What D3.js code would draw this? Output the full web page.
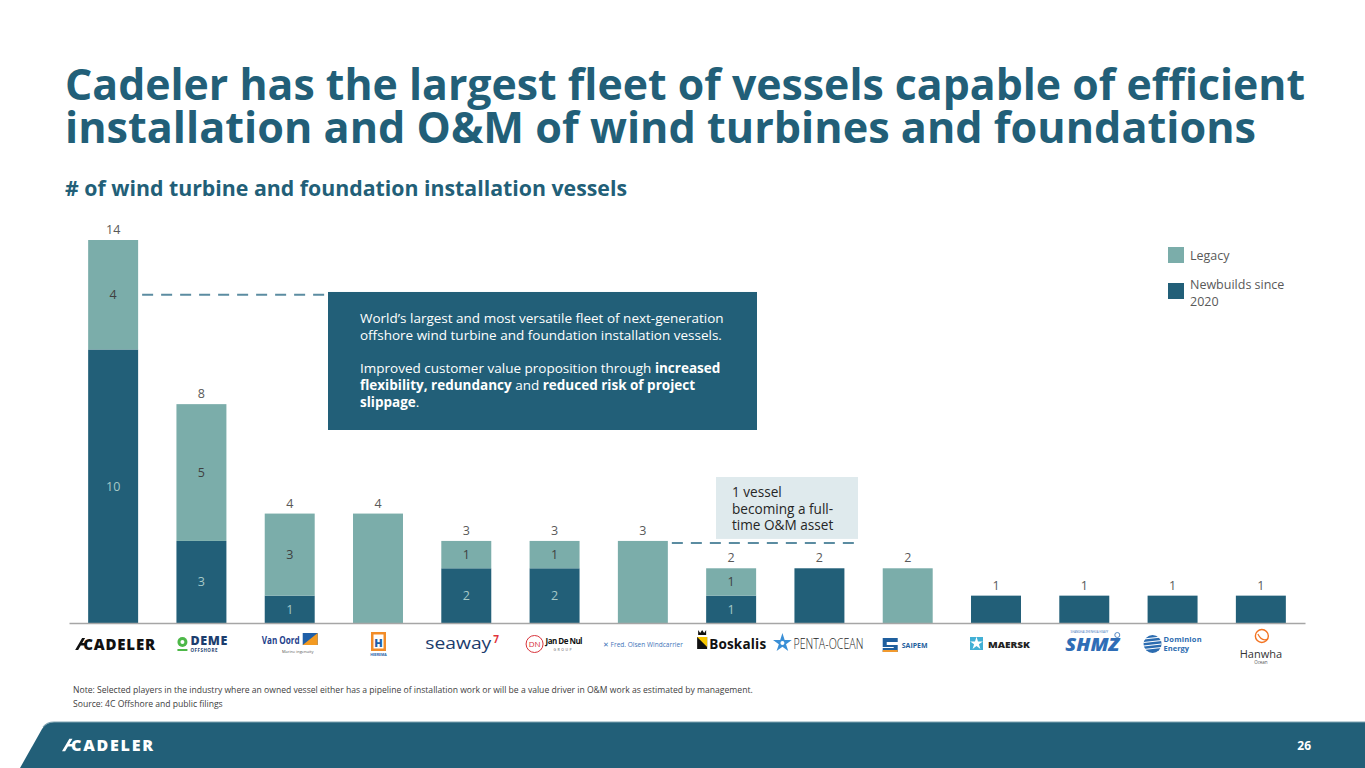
<!DOCTYPE html>
<html>
<head>
<meta charset="utf-8">
<script src="https://cdn.jsdelivr.net/npm/d3@7"></script>
<style>
  body { margin: 0; background: #fff; }
  svg { display: block; font-family: "Open Sans", "Noto Sans", sans-serif; }
</style>
</head>
<body>
<svg id="chart" width="1365" height="768"></svg>
<script>
// data
const companies = ["Cadeler", "DEME Offshore", "Van Oord", "Heerema", "Seaway7", "Jan De Nul",
  "Fred. Olsen Windcarrier", "Boskalis", "Penta-Ocean", "Saipem", "Maersk", "SHMZ",
  "Dominion Energy", "Hanwha Ocean"];
const newbuilds = [10, 3, 1, 0, 2, 2, 0, 1, 2, 0, 1, 1, 1, 1];
const legacy = [4, 5, 3, 4, 1, 1, 3, 1, 0, 2, 0, 0, 0, 0];
const seriesKeys = ["newbuild", "legacy"];
const seriesLabels = ["Newbuilds since 2020", "Legacy"];

const dark = "#225f78";
const light = "#7badaa";

const svg = d3.select("#chart");
const width = 1365;

const rows = companies.map((c, i) => ({ name: c, newbuild: newbuilds[i], legacy: legacy[i] }));
rows.forEach((d) => (d.total = d.newbuild + d.legacy));

const x = d3.scaleBand()
  .domain(companies)
  .range([69, 1305])
  .paddingInner(0.434)
  .paddingOuter(0.217);

const y = d3.scaleLinear().domain([0, 14]).range([623, 240]);

const color = d3.scaleOrdinal().domain(seriesKeys).range([dark, light]);

// fit text to a width by tweaking font size
const fit = (sel, target) => {
  const w = sel.node().getComputedTextLength();
  const fs = parseFloat(sel.attr("font-size"));
  sel.attr("font-size", (fs * target) / w);
  return (fs * target) / w;
};

// ---- title (one text, two lines, squeezed a bit to match the slide font)
const title = svg.append("text")
  .attr("font-size", 43).attr("font-weight", 700).attr("fill", dark);
title.append("tspan")
  .attr("x", 65).attr("y", 100)
  .attr("textLength", 1240).attr("lengthAdjust", "spacingAndGlyphs")
  .text("Cadeler has the largest fleet of vessels capable of efficient");
title.append("tspan")
  .attr("x", 65).attr("y", 143)
  .attr("textLength", 1191).attr("lengthAdjust", "spacingAndGlyphs")
  .text("installation and O&M of wind turbines and foundations");

const sub = svg.append("text")
  .attr("x", 65).attr("y", 196)
  .attr("font-size", 20.5).attr("font-weight", 700).attr("fill", dark)
  .attr("textLength", 562).attr("lengthAdjust", "spacingAndGlyphs")
  .text("# of wind turbine and foundation installation vessels");

// ---- bars
const stacked = d3.stack().keys(seriesKeys)(rows);

const layer = svg.append("g")
  .selectAll("g.layer")
  .data(stacked)
  .join("g")
  .attr("class", "layer")
  .attr("fill", (d) => color(d.key));

layer.selectAll("rect")
  .data((d) => d)
  .join("rect")
  .attr("x", (d) => x(d.data.name))
  .attr("width", x.bandwidth())
  .attr("y", (d) => y(d[1]))
  .attr("height", (d) => y(d[0]) - y(d[1]));

// labels inside segments, only where a bar has both parts
layer.each(function (s) {
  d3.select(this).selectAll("text")
    .data(s.filter((d) => d.data.newbuild > 0 && d.data.legacy > 0))
    .join("text")
    .attr("x", (d) => x(d.data.name) + x.bandwidth() / 2)
    .attr("y", (d) => (y(d[0]) + y(d[1])) / 2 + 4.5)
    .attr("text-anchor", "middle")
    .attr("font-size", 12.5)
    .attr("fill", s.key === "newbuild" ? "#a6c9c7" : "#404040")
    .text((d) => d[1] - d[0]);
});

// totals
svg.append("g")
  .selectAll("text")
  .data(rows)
  .join("text")
  .attr("x", (d) => x(d.name) + x.bandwidth() / 2)
  .attr("y", (d) => y(d.total) - 6)
  .attr("text-anchor", "middle")
  .attr("font-size", 12.5)
  .attr("fill", "#595959")
  .text((d) => d.total);

// baseline
svg.append("g")
  .attr("transform", `translate(0,${y(0)})`)
  .call(d3.axisBottom(x).tickSize(0).tickFormat(""))
  .call((g) => g.select(".domain").attr("stroke", "#a6a6a6").attr("stroke-width", 1.5));

// ---- annotations
svg.append("line")
  .attr("x1", x("Cadeler") + x.bandwidth() + 4).attr("x2", 328)
  .attr("y1", y(12)).attr("y2", y(12))
  .attr("stroke", "#5b8ca1").attr("stroke-width", 2).attr("stroke-dasharray", "11,8");

svg.append("rect")
  .attr("x", 328).attr("y", y(12.1))
  .attr("width", 429).attr("height", 430 - y(12.1))
  .attr("fill", dark);

const boxLines = [
  [["World’s largest and most versatile fleet of next-generation", 400]],
  [["offshore wind turbine and foundation installation vessels.", 400]],
  [],
  [["Improved customer value proposition through ", 400], ["increased", 700]],
  [["flexibility, redundancy", 700], [" and ", 400], ["reduced risk of project", 700]],
  [["slippage", 700], [".", 400]],
];
const boxText = svg.append("text")
  .attr("font-size", 13.5).attr("fill", "#fff");
boxLines.forEach((line, i) => {
  line.forEach((part, j) => {
    const ts = boxText.append("tspan")
      .attr("font-weight", part[1])
      .text(part[0]);
    if (j === 0) ts.attr("x", 360).attr("y", 323 + i * 16.8);
  });
});

svg.append("line")
  .attr("x1", x("Fred. Olsen Windcarrier") + x.bandwidth() + 4).attr("x2", 858)
  .attr("y1", y(3) + 2).attr("y2", y(3) + 2)
  .attr("stroke", "#5b8ca1").attr("stroke-width", 2).attr("stroke-dasharray", "11,8");

svg.append("rect")
  .attr("x", 716).attr("y", 477)
  .attr("width", 142).attr("height", y(3) - 477 - 2)
  .attr("fill", "#dfeaed");

svg.append("text")
  .attr("font-size", 13.6).attr("fill", "#262626")
  .selectAll("tspan")
  .data(["1 vessel", "becoming a full-", "time O&M asset"])
  .join("tspan")
  .attr("x", 732)
  .attr("y", (d, i) => 497 + i * 16.5)
  .text((d) => d);

// ---- legend
const legend = svg.append("g").attr("transform", "translate(1168,247)");
const legendItems = [
  { key: "legacy", lines: ["Legacy"] },
  { key: "newbuild", lines: ["Newbuilds since", "2020"] },
];
legendItems.forEach((it, i) => {
  const g = legend.append("g").attr("transform", `translate(0,${i * 36})`);
  g.append("rect").attr("width", 16).attr("height", 16).attr("fill", color(it.key));
  g.append("text")
    .attr("font-size", 12.5).attr("fill", "#595959")
    .selectAll("tspan")
    .data(it.lines)
    .join("tspan")
    .attr("x", 22)
    .attr("y", (d, j) => (it.lines.length === 1 ? 13 : 6 + j * 17))
    .text((d) => d);
});

// ---- company logos (approximated with text + simple shapes)
const cadelerMark = (g, fill, s) => {
  g.append("path")
    .attr("d", `M0 ${6 * s} L${7 * s} ${-6 * s} L${10 * s} ${-6 * s} L${3 * s} ${6 * s} Z M${6 * s} ${-1 * s} L${12 * s} ${-1 * s} L${11 * s} ${1.5 * s} L${5 * s} ${1.5 * s} Z`)
    .attr("fill", fill);
};

const logos = {
  "Cadeler": (g) => {
    cadelerMark(g.append("g").attr("transform", "translate(-38,0)"), "#111", 1);
    g.append("text").attr("x", -30).attr("y", 6)
      .attr("font-size", 15).attr("font-weight", 800).attr("fill", "#111")
      .attr("textLength", 72).text("CADELER");
  },
  "DEME Offshore": (g) => {
    g.append("circle").attr("cx", -19).attr("cy", -2).attr("r", 5).attr("fill", "#4db848");
    g.append("circle").attr("cx", -19).attr("cy", -2).attr("r", 2).attr("fill", "#fff");
    g.append("rect").attr("x", -24).attr("y", 5).attr("width", 10).attr("height", 2).attr("fill", "#4db848");
    g.append("text").attr("x", -11).attr("y", 1).attr("font-size", 12.5).attr("font-weight", 800)
      .attr("fill", "#1d3e6e").attr("textLength", 37).text("DEME");
    g.append("text").attr("x", -11).attr("y", 8).attr("font-size", 4.5).attr("font-weight", 700)
      .attr("fill", "#1d3e6e").attr("letter-spacing", 0.5).text("OFFSHORE");
  },
  "Van Oord": (g) => {
    g.append("text").attr("x", -28).attr("y", 0).attr("font-size", 10.5).attr("font-weight", 700)
      .attr("fill", "#1f3f8c").attr("textLength", 38).attr("lengthAdjust", "spacingAndGlyphs").text("Van Oord");
    g.append("rect").attr("x", 13).attr("y", -11).attr("width", 15).attr("height", 12).attr("fill", "#1f5fa8");
    g.append("path").attr("d", "M13 1 L28 -11 L28 1 Z").attr("fill", "#f39a21");
    g.append("text").attr("x", 8).attr("y", 9).attr("font-size", 4).attr("fill", "#555")
      .attr("text-anchor", "middle").text("Marine ingenuity");
  },
  "Heerema": (g) => {
    g.append("rect").attr("x", -7).attr("y", -12).attr("width", 15).attr("height", 19).attr("fill", "#f28c28");
    g.append("rect").attr("x", -4.5).attr("y", -9.5).attr("width", 10).attr("height", 14).attr("fill", "#fff");
    g.append("text").attr("x", 0.5).attr("y", 2.5).attr("text-anchor", "middle").attr("font-size", 11)
      .attr("font-weight", 800).attr("fill", "#1f5fa8").text("H");
    g.append("text").attr("x", 0.5).attr("y", 12).attr("text-anchor", "middle").attr("font-size", 3.5)
      .attr("font-weight", 700).attr("fill", "#1f5fa8").text("HEEREMA");
  },
  "Seaway7": (g) => {
    g.append("text").attr("x", -41).attr("y", 5).attr("font-size", 16).attr("font-weight", 400)
      .attr("fill", "#1b3b6c").attr("textLength", 66).attr("lengthAdjust", "spacingAndGlyphs").text("seaway");
    g.append("text").attr("x", 27).attr("y", -1).attr("font-size", 10).attr("font-weight", 700)
      .attr("fill", "#e2343b").text("7");
  },
  "Jan De Nul": (g) => {
    g.append("circle").attr("cx", -20).attr("cy", 0).attr("r", 8.5).attr("fill", "#fff")
      .attr("stroke", "#d8323a").attr("stroke-width", 1);
    g.append("text").attr("x", -20).attr("y", 3).attr("text-anchor", "middle").attr("font-size", 8)
      .attr("fill", "#d8323a").text("DN");
    g.append("text").attr("x", -9).attr("y", 0).attr("font-size", 8).attr("font-weight", 700)
      .attr("fill", "#111").attr("textLength", 37).text("Jan De Nul");
    g.append("text").attr("x", -1).attr("y", 7).attr("font-size", 3.5).attr("fill", "#555")
      .attr("letter-spacing", 1.5).text("GROUP");
  },
  "Fred. Olsen Windcarrier": (g) => {
    g.append("text").attr("x", -40).attr("y", 3).attr("font-size", 6.5)
      .attr("fill", "#3e73b8").attr("textLength", 80).text("✕  Fred. Olsen Windcarrier");
  },
  "Boskalis": (g) => {
    g.append("path").attr("d", "M-33 -14 L-31 -11 L-29 -14 L-27 -11 L-25 -14 L-25 -9 L-33 -9 Z").attr("fill", "#111");
    g.append("rect").attr("x", -34).attr("y", -7).attr("width", 10).attr("height", 12).attr("fill", "#111");
    g.append("path").attr("d", "M-34 -7 L-24 -7 L-24 3 Z").attr("fill", "#f7c600");
    g.append("text").attr("x", -22).attr("y", 5).attr("font-size", 13.5).attr("font-weight", 700)
      .attr("fill", "#111").attr("textLength", 57).text("Boskalis");
  },
  "Penta-Ocean": (g) => {
    g.append("path").attr("d", d3.symbol(d3.symbolStar, 110)()).attr("transform", "translate(-37,-1)").attr("fill", "#3a8fd6");
    g.append("circle").attr("cx", -37).attr("cy", -1).attr("r", 2).attr("fill", "#fff");
    g.append("text").attr("x", -26).attr("y", 5).attr("font-size", 14).attr("font-weight", 300)
      .attr("fill", "#222").attr("textLength", 70).attr("lengthAdjust", "spacingAndGlyphs").text("PENTA-OCEAN");
  },
  "Saipem": (g) => {
    g.append("path").attr("d", "M-25 -6 L-10 -6 L-10 -2 L-21 -2 L-21 1 L-10 1 L-10 8 L-25 8 L-25 4 L-14 4 L-14 3 L-25 3 Z")
      .attr("fill", "#1f5f9e");
    g.append("rect").attr("x", -25).attr("y", 6).attr("width", 15).attr("height", 2).attr("fill", "#f29a2e");
    g.append("text").attr("x", -6).attr("y", 4).attr("font-size", 7).attr("font-weight", 700)
      .attr("fill", "#1f5f9e").text("SAIPEM");
  },
  "Maersk": (g) => {
    g.append("rect").attr("x", -26).attr("y", -7).attr("width", 13).attr("height", 13).attr("fill", "#42b0d5");
    g.append("path").attr("d", d3.symbol(d3.symbolStar, 50)()).attr("transform", "translate(-19.5,-0.5)").attr("fill", "#fff");
    g.append("text").attr("x", -8).attr("y", 3.5).attr("font-size", 9).attr("font-weight", 800)
      .attr("fill", "#222").attr("textLength", 42).attr("lengthAdjust", "spacingAndGlyphs").text("MAERSK");
  },
  "SHMZ": (g) => {
    g.append("text").attr("x", -19).attr("y", 7).attr("font-size", 17).attr("font-weight", 800)
      .attr("font-style", "italic").attr("fill", "#2f6db6").attr("textLength", 54)
      .attr("lengthAdjust", "spacingAndGlyphs").text("SHMZ");
    g.append("text").attr("x", 5).attr("y", -11).attr("font-size", 2.8).attr("text-anchor", "middle")
      .attr("fill", "#2f6db6").text("SHANGHAI ZHENHUA HEAVY");
    g.append("circle").attr("cx", 33).attr("cy", -9).attr("r", 2.5).attr("fill", "none")
      .attr("stroke", "#2f6db6").attr("stroke-width", 0.8);
  },
  "Dominion Energy": (g) => {
    g.append("circle").attr("cx", -20).attr("cy", 0).attr("r", 9).attr("fill", "#2c6cb0");
    [-5, -1.5, 2, 5.5].forEach((dy) => {
      g.append("line").attr("x1", -29).attr("x2", -11).attr("y1", dy).attr("y2", dy - 2)
        .attr("stroke", "#fff").attr("stroke-width", 1.2);
    });
    g.append("text").attr("x", -9).attr("y", -2).attr("font-size", 7.5).attr("font-weight", 700)
      .attr("fill", "#2c6cb0").attr("textLength", 38).text("Dominion");
    g.append("text").attr("x", -9).attr("y", 7).attr("font-size", 7.5).attr("font-weight", 700)
      .attr("fill", "#2c6cb0").text("Energy");
  },
  "Hanwha Ocean": (g) => {
    g.append("circle").attr("cx", 1).attr("cy", -8).attr("r", 6.5).attr("fill", "none")
      .attr("stroke", "#f37321").attr("stroke-width", 1.4);
    g.append("path").attr("d", "M-3 -10 Q1 -2 7 -5").attr("fill", "none")
      .attr("stroke", "#f37321").attr("stroke-width", 1.2);
    g.append("text").attr("x", 0).attr("y", 14).attr("text-anchor", "middle").attr("font-size", 11)
      .attr("fill", "#333").text("Hanwha");
    g.append("text").attr("x", 0).attr("y", 20).attr("text-anchor", "middle").attr("font-size", 4.5)
      .attr("fill", "#555").text("Ocean");
  },
};

svg.append("g")
  .selectAll("g.logo")
  .data(companies)
  .join("g")
  .attr("class", "logo")
  .attr("transform", (d) => `translate(${x(d) + x.bandwidth() / 2},644)`)
  .each(function (d) {
    if (logos[d]) logos[d](d3.select(this));
  });

// ---- notes
svg.append("text")
  .attr("x", 73).attr("y", 693)
  .attr("font-size", 8.6).attr("fill", "#404040")
  .text("Note: Selected players in the industry where an owned vessel either has a pipeline of installation work or will be a value driver in O&M work as estimated by management.");
svg.append("text")
  .attr("x", 73).attr("y", 707)
  .attr("font-size", 8.6).attr("fill", "#404040")
  .text("Source: 4C Offshore and public filings");

// ---- footer band
svg.append("path")
  .attr("d", `M20 768 L42 729 Q46 722 54 722 L${width} 722 L${width} 768 Z`)
  .attr("fill", dark);
svg.append("path")
  .attr("d", `M43 727 Q47 722 54 722 L${width} 722`)
  .attr("fill", "none").attr("stroke", "#7ea3b1").attr("stroke-width", 1.2);

cadelerMark(svg.append("g").attr("transform", "translate(62,745)"), "#fff", 1.05);
svg.append("text")
  .attr("x", 71).attr("y", 751)
  .attr("font-size", 16).attr("font-weight", 800).attr("fill", "#fff")
  .attr("textLength", 82).text("CADELER");

svg.append("text")
  .attr("x", 1311).attr("y", 750)
  .attr("text-anchor", "end")
  .attr("font-size", 12).attr("font-weight", 700).attr("fill", "#fff")
  .text("26");
</script>
</body>
</html>
